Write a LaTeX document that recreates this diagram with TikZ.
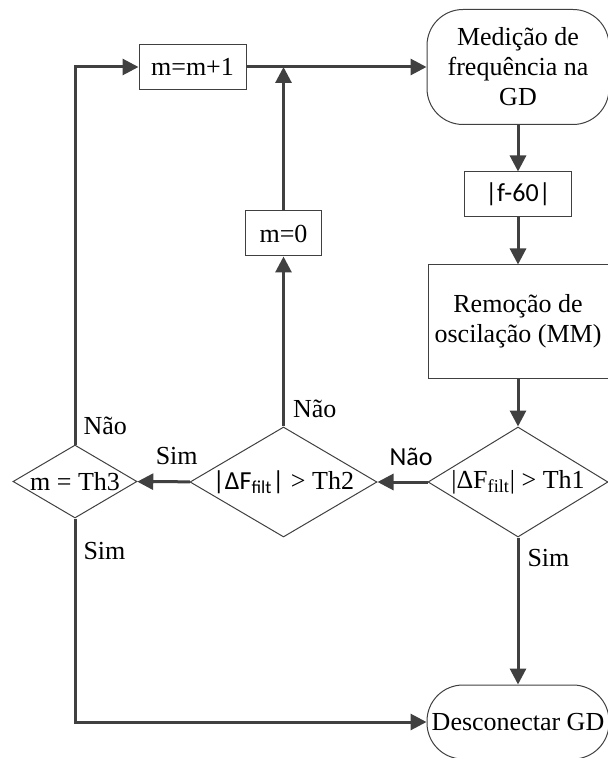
\documentclass[tikz,border=0pt]{standalone}
\usepackage{fontspec}
\setmainfont{Liberation Serif}
\setsansfont{Carlito}
\usetikzlibrary{shapes.geometric, arrows.meta}
\definecolor{linegray}{HTML}{404040}

\begin{document}
\begin{tikzpicture}[x = 0.5pt, y = -0.5pt,
                        font = \fontsize{13}{15}\selectfont,
                        sans/.style = {font = \fontsize{13}{15}\selectfont\sffamily},
                        term/.style = {draw = linegray, line width = 0.5pt, rounded corners = 18pt, align = center, inner sep = 0pt},
                        proc/.style = {draw = linegray, line width = 0.5pt, rectangle, align = center, inner sep = 0pt},
                        decision/.style = {draw = linegray, line width = 0.5pt, diamond, inner sep = 0pt},
                        flow/.style = {draw = linegray, line width = 1.5pt, -{Triangle[length = 8pt, width = 8pt]}},
                        lbl/.style = {inner sep = 0pt}]
      \useasboundingbox (0, 0) rectangle (608, 758);

      \node [term, minimum width = 91pt, minimum height = 57.5pt] (med) at (518, 67){Medição de\\frequência na\\GD};
      \node [proc, sans, minimum width = 53.5pt, minimum height = 22.5pt] (abs) at (518, 194.5){|f-60|};
      \node [proc, minimum width = 90pt, minimum height = 56.5pt] (rem) at (518, 321.5){Remoção de\\oscilação (MM)};
      \node [decision, minimum width = 90pt, minimum height = 55pt, aspect = 1.64] (th1) at (518, 482){|ΔF\textsubscript{filt}| > Th1};
      \node [decision, minimum width = 93.5pt, minimum height = 55pt, aspect = 1.7] (th2) at (283.5, 482){{\sffamily|ΔF\textsubscript{filt}|} > Th2};
      \node [decision, minimum width = 62pt, minimum height = 36.5pt, aspect = 1.7] (th3) at (75, 481.5){m = Th3};
      \node [proc, minimum width = 53.5pt, minimum height = 22.5pt] (mp1) at (192.5, 67){m=m+1};
      \node [proc, minimum width = 38pt, minimum height = 22.5pt] (m0) at (283.5, 233.5){m=0};
      \node [term, minimum width = 91pt, minimum height = 37pt] (des) at (518, 722){Desconectar GD};

      \coordinate (ctop) at (75, 67);
      \coordinate (cjoin) at (283.5, 67);
      \coordinate (cbot) at (75, 722);

      \draw [flow] (med) -- (abs);
      \draw [flow] (abs) -- (rem);
      \draw [flow] (rem) -- (th1);
      \draw [flow] (th1) -- node [lbl, sans, pos = 0.33, anchor = south, yshift = 7.5pt]{Não} (th2);
      \draw [flow] (th1) -- node [lbl, pos = 0, anchor = north west, xshift = 4pt, yshift = -5pt]{Sim} (des);
      \draw [flow] (th2) -- node [lbl, pos = 0.25, anchor = south, yshift = 7.5pt]{Sim} (th3);
      \draw [flow] (th2) -- node [lbl, pos = 0, anchor = south west, xshift = 4pt, yshift = 3.5pt]{Não} (m0);
      \draw [flow] (m0) -- (cjoin);
      \draw [flow] (th3) -- node [lbl, pos = 0, anchor = south west, xshift = 3.5pt, yshift = 4pt]{Não} (ctop) -- (mp1);
      \draw [flow] (th3) -- node [lbl, pos = 0, anchor = north west, xshift = 3.5pt, yshift = -11pt]{Sim} (cbot) -- (des);
      \draw [flow] (mp1) -- (med);
      \end{tikzpicture}
\end{document}
